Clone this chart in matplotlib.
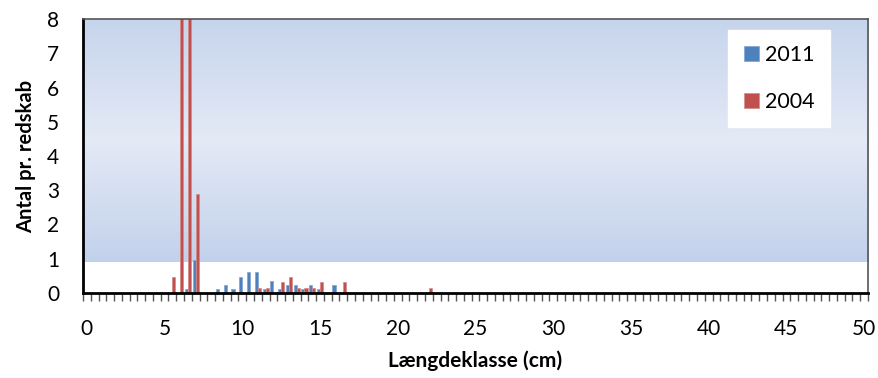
import numpy as np
import matplotlib.pyplot as plt
from matplotlib.colors import LinearSegmentedColormap

plt.rcParams['font.family'] = ['Lato', 'DejaVu Sans']

# length classes (cm), 0.5 cm steps
classes = np.arange(0, 50.5, 0.5)

# counts per gear (only non-zero classes listed)
cls_2011 = [6.5, 7.0, 8.5, 9.0, 9.5, 10.0, 10.5, 11.0, 11.5, 12.0, 12.5, 13.0, 13.5, 14.0, 14.5, 15.0, 16.0]
val_2011 = [0.12, 0.96, 0.12, 0.24, 0.12, 0.48, 0.60, 0.60, 0.12, 0.36, 0.12, 0.24, 0.24, 0.12, 0.24, 0.12, 0.24]
cls_2004 = [5.5, 6.0, 6.5, 7.0, 11.0, 11.5, 12.5, 13.0, 13.5, 14.0, 14.5, 15.0, 16.5, 22.0]
val_2004 = [0.48, 12.0, 10.4, 2.88, 0.16, 0.16, 0.32, 0.48, 0.16, 0.16, 0.16, 0.32, 0.32, 0.16]

y2011 = np.zeros_like(classes)
y2004 = np.zeros_like(classes)
for c, v in zip(cls_2011, val_2011):
    y2011[int(round(c * 2))] = v
for c, v in zip(cls_2004, val_2004):
    y2004[int(round(c * 2))] = v

fig = plt.figure(figsize=(8.79, 3.78), dpi=100)
ax = fig.add_axes([0.0944, 0.2249, 0.8931, 0.7248])

x0, x1 = -0.25, 50.25
# gradient band behind the bars
cmap = LinearSegmentedColormap.from_list('band', ['#c2d1eb', '#e4eaf6', '#c6d4ec'])
grad = np.linspace(0, 1, 256).reshape(-1, 1)
ax.imshow(grad, extent=(x0, x1, 0.9, 8), aspect='auto', cmap=cmap, origin='lower', zorder=0)

w = 0.2
ax.bar(classes - 0.1, y2011, width=w, color='#4f81bd', edgecolor='#7fa3d3', linewidth=0.5, label='2011', zorder=2)
ax.bar(classes + 0.1, y2004, width=w, color='#c0504d', edgecolor='#d88a88', linewidth=0.5, label='2004', zorder=2)

ax.set_xlim(x0, x1)
ax.set_ylim(0, 8)
ax.set_xticks(np.arange(0, 51, 5))
ax.set_xticklabels([str(v) for v in range(0, 51, 5)], fontsize=15)
ax.set_xticks(np.arange(x0, x1 + 0.01, 0.5), minor=True)
ax.tick_params(axis='x', which='major', length=0, pad=19)
ax.tick_params(axis='x', which='minor', length=6, width=1, color='#555555', direction='out')
ax.set_yticks(range(0, 9))
ax.tick_params(axis='y', length=0, labelsize=15, pad=17)

for s in ['left', 'bottom']:
    ax.spines[s].set_linewidth(2)
    ax.spines[s].set_color('black')
for s in ['top', 'right']:
    ax.spines[s].set_linewidth(1.2)
    ax.spines[s].set_color('#555555')

ax.set_xlabel('Længdeklasse (cm)', fontsize=15, fontweight='bold', labelpad=8)
ax.set_ylabel('Antal pr. redskab', fontsize=14.5, fontweight='bold', labelpad=8)

leg = ax.legend(loc='upper right', bbox_to_anchor=(0.944, 0.921), bbox_transform=fig.transFigure,
                fontsize=15.5, frameon=True, fancybox=False, edgecolor='white', framealpha=1,
                handlelength=0.7, handleheight=0.7, handletextpad=0.3, labelspacing=1.25,
                borderpad=0.7, borderaxespad=0)

plt.savefig('out.png', dpi=100)
